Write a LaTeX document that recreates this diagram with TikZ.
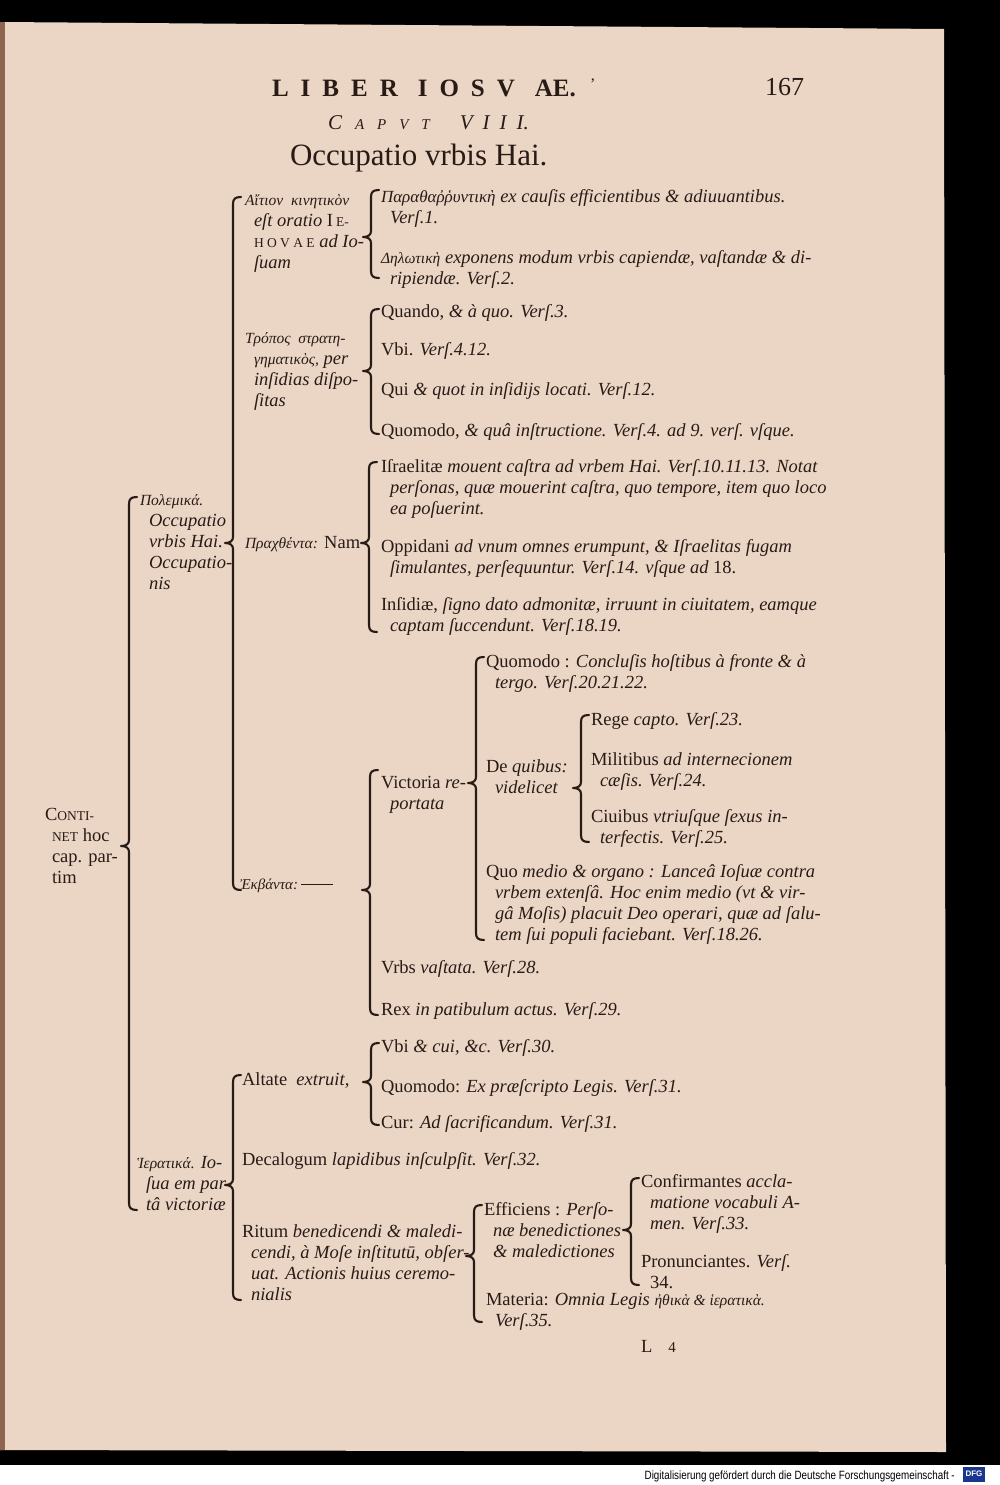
\documentclass[tikz,border=0pt]{standalone}
\usepackage{fontspec}
\setmainfont{Liberation Serif}
\newfontfamily\credfont{Liberation Sans}
\definecolor{paper}{RGB}{235,214,198}
\definecolor{paperedge}{RGB}{140,100,80}
\definecolor{ink}{RGB}{40,27,22}
\definecolor{dfgblue}{RGB}{25,55,140}
\newcommand\lf{\fontsize{18.5}{21}\selectfont}
\newcommand\gk{\fontsize{15.5}{21}\selectfont\itshape}
\newcommand\itx[1]{{\itshape #1}}
\newcommand\scx[1]{{\fontsize{13.5}{21}\selectfont #1}}
\newcommand\ind{\hspace*{9pt}}
\newcommand\hdsp{\hspace{12pt}}
\newcommand\hdspb{\hspace{20pt}}
\newcommand\cpsp{\hspace{13pt}}
\newcommand\vsp{\hspace{10pt}}
\newcommand\brc[4]{%
  \draw[brline] (#1+8,#2) .. controls (#1+2,#2) and (#1,#2+2) .. (#1,#2+7)
    -- (#1,#3-6) .. controls (#1,#3-2) and (#1-3,#3) .. (#1-8,#3)
    .. controls (#1-3,#3) and (#1,#3+2) .. (#1,#3+6)
    -- (#1,#4-7) .. controls (#1,#4-2) and (#1+2,#4) .. (#1+8,#4);}
\tikzset{
  lv/.style={anchor=north west, inner sep=0pt, outer sep=0pt, align=left, font=\lf, text=ink, yshift=14.7pt},
  brline/.style={draw=ink, line width=2.1pt, line cap=round, line join=round},
  plain/.style={anchor=base west, inner sep=0pt, outer sep=0pt, text=ink},
}
\begin{document}
\begin{tikzpicture}[x=1pt,y={(0pt,-1pt)}]
\useasboundingbox (0,0) rectangle (1000,1485);
% background
\fill[black] (0,0) rectangle (1000,1485);
\fill[white] (0,1465) rectangle (1000,1485);
\fill[paper] (0,22) -- (944,29) -- (946,1452) -- (0,1450) -- cycle;
\fill[paperedge] (0,22) rectangle (5,1450);
% header
\node[plain, font=\fontsize{25}{30}\selectfont\bfseries] (hd) at (272,97) {L\hdsp I\hdsp B\hdsp E\hdsp R\hdspb I\hdsp O\hdsp S\hdsp V\hdspb AE.};
\node[plain, font=\fontsize{16}{20}\selectfont] (tick) at (590,90) {'};
\node[plain, font=\fontsize{26}{30}\selectfont] (pg) at (765,96) {167};
\node[plain, font=\itshape] (cap) at (328,129) {{\fontsize{21}{24}\selectfont C}{\fontsize{15}{24}\selectfont\cpsp A\cpsp P\cpsp V\cpsp T}\hspace{30pt}{\fontsize{21}{24}\selectfont V\vsp I\vsp I\vsp I.}};
\node[plain, font=\fontsize{31}{35}\selectfont] (ttl) at (290,165) {Occupatio vrbis Hai.};
% level 0
\node[lv] (root) at (45,820) {\strut C\scx{ONTI-}\\\hspace*{7pt}\scx{NET} hoc\\\hspace*{7pt}cap. par-\\\hspace*{7pt}tim};
\brc{129}{497}{846}{1210}
% Polemika
\node[lv] (pol) at (140,505) {\strut{\gk Πολεμικά.}\\\ind\itx{Occupatio}\\\ind\itx{vrbis Hai.}\\\ind\itx{Occupatio-}\\\ind\itx{nis}};
\brc{233}{197}{543}{890}
% Aition
\node[lv] (ait) at (245,205) {\strut{\gk Αἴτιον\ \ κινητικὸν}\\\ind\itx{eſt oratio} I\,\scx{E-}\\\ind\scx{H O V A E} \itx{ad Io-}\\\ind\itx{ſuam}};
\brc{371}{190}{237}{278}
\node[lv] (a1) at (381,202) {\strut{\fontsize{17}{21}\selectfont\itshape Παραθαῤῥυντικὴ} \itx{ex cauſis efficientibus \& adiuuantibus.}\\\ind\itx{Verſ.1.}};
\node[lv] (a2) at (381,263) {\strut{\gk Δηλωτικὴ} \itx{exponens modum vrbis capiendæ, vaſtandæ \& di-}\\\ind\itx{ripiendæ. Verſ.2.}};
% Tropos
\node[lv] (tro) at (245,343) {\strut{\gk Τρόπος\ \ στρατη-}\\\ind{\gk γηματικὸς,} \itx{per}\\\ind\itx{inſidias diſpo-}\\\ind\itx{ſitas}};
\brc{371}{309}{371}{434}
\node[lv] (b1) at (381,317) {\strut Quando, \itx{\& à quo. Verſ.3.}};
\node[lv] (b2) at (381,355) {\strut Vbi. \itx{Verſ.4.12.}};
\node[lv] (b3) at (381,395) {\strut Qui \itx{\& quot in inſidijs locati. Verſ.12.}};
\node[lv] (b4) at (381,436) {\strut Quomodo, \itx{\& quâ inſtructione. Verſ.4. ad 9. verſ. vſque.}};
% Prachthenta
\node[lv] (pra) at (245,548) {\strut{\gk Πραχθέντα:} Nam};
\brc{369}{462}{543}{632}
\node[lv] (c1) at (381,472) {\strut Iſraelitæ \itx{mouent caſtra ad vrbem Hai. Verſ.10.11.13. Notat}\\\ind\itx{perſonas, quæ mouerint caſtra, quo tempore, item quo loco}\\\ind\itx{ea poſuerint.}};
\node[lv] (c2) at (381,552) {\strut Oppidani \itx{ad vnum omnes erumpunt, \& Iſraelitas fugam}\\\ind\itx{ſimulantes, perſequuntur. Verſ.14. vſque ad} 18.};
\node[lv] (c3) at (381,610) {\strut Inſidiæ, \itx{ſigno dato admonitæ, irruunt in ciuitatem, eamque}\\\ind\itx{captam ſuccendunt. Verſ.18.19.}};
% Ekbanta
\node[lv] (ekb) at (240,889) {\strut{\fontsize{15}{21}\selectfont\itshape Ἐκβάντα:}\,\rule[4pt]{32pt}{1.2pt}};
\brc{370}{770}{890}{1015}
\node[lv] (vic) at (381,788) {\strut Victoria \itx{re-}\\\ind\itx{portata}};
\brc{476}{657}{783}{940}
\node[lv] (d1) at (486,667) {\strut Quomodo : \itx{Concluſis hoſtibus à fronte \& à}\\\ind\itx{tergo. Verſ.20.21.22.}};
\node[lv] (dq) at (486,772) {\strut De \itx{quibus:}\\\ind\itx{videlicet}};
\brc{581}{715}{788}{842}
\node[lv] (e1) at (591,725) {\strut Rege \itx{capto. Verſ.23.}};
\node[lv] (e2) at (591,765) {\strut Militibus \itx{ad internecionem}\\\ind\itx{cæſis. Verſ.24.}};
\node[lv] (e3) at (591,822) {\strut Ciuibus \itx{vtriuſque ſexus in-}\\\ind\itx{terfectis. Verſ.25.}};
\node[lv] (d3) at (486,877) {\strut Quo \itx{medio \& organo : Lanceâ Ioſuæ contra}\\\ind\itx{vrbem extenſâ. Hoc enim medio (vt \& vir-}\\\ind\itx{gâ Moſis) placuit Deo operari, quæ ad ſalu-}\\\ind\itx{tem ſui populi faciebant. Verſ.18.26.}};
\node[lv] (f1) at (381,973) {\strut Vrbs \itx{vaſtata. Verſ.28.}};
\node[lv] (f2) at (381,1015) {\strut Rex \itx{in patibulum actus. Verſ.29.}};
% Hieratika
\node[lv] (hie) at (137,1168) {\strut{\gk Ἱερατικά.} \itx{Io-}\\\ind\itx{ſua em par-}\\\ind\itx{tâ victoriæ}};
\brc{233}{1075}{1185}{1300}
\node[lv] (alt) at (242,1085) {\strut Altate\ \ \itx{extruit,}};
\brc{371}{1043}{1082}{1125}
\node[lv] (g1) at (381,1052) {\strut Vbi \itx{\& cui, \&c. Verſ.30.}};
\node[lv] (g2) at (381,1092) {\strut Quomodo: \itx{Ex præſcripto Legis. Verſ.31.}};
\node[lv] (g3) at (381,1128) {\strut Cur: \itx{Ad ſacrificandum. Verſ.31.}};
\node[lv] (dec) at (242,1165) {\strut Decalogum \itx{lapidibus inſculpſit. Verſ.32.}};
\node[lv] (rit) at (242,1237) {\strut Ritum \itx{benedicendi \& maledi-}\\\ind\itx{cendi, à Moſe inſtitutū, obſer-}\\\ind\itx{uat. Actionis huius ceremo-}\\\ind\itx{nialis}};
\brc{474}{1205}{1256}{1322}
\node[lv] (h1) at (484,1215) {\strut Efficiens : \itx{Perſo-}\\\ind\itx{næ benedictiones}\\\ind\itx{\& maledictiones}};
\brc{631}{1178}{1230}{1285}
\node[lv] (i1) at (641,1187) {\strut Confirmantes \itx{accla-}\\\ind\itx{matione vocabuli A-}\\\ind\itx{men. Verſ.33.}};
\node[lv] (i2) at (641,1267) {\strut Pronunciantes. \itx{Verſ.}\\\ind 34.};
\node[lv] (h2) at (486,1305) {\strut Materia: \itx{Omnia Legis} {\gk ἠθικὰ \& ἱερατικὰ.}\\\ind\itx{Verſ.35.}};
\node[plain, font=\lf] (sig) at (641,1352) {L\hspace{16pt}{\fontsize{15}{18}\selectfont 4}};
% credit
\node[anchor=base east, inner sep=0pt] (cred) at (955,1479) {\scalebox{0.82}[1]{\credfont\fontsize{12}{14}\selectfont Digitalisierung gefördert durch die Deutsche Forschungsgemeinschaft -}};
\node[fill=dfgblue, text=white, inner sep=0pt, font=\credfont\bfseries\fontsize{8}{9}\selectfont, minimum width=22pt, minimum height=15pt] (dfg) at (974,1474) {DFG};
\end{tikzpicture}
\end{document}
